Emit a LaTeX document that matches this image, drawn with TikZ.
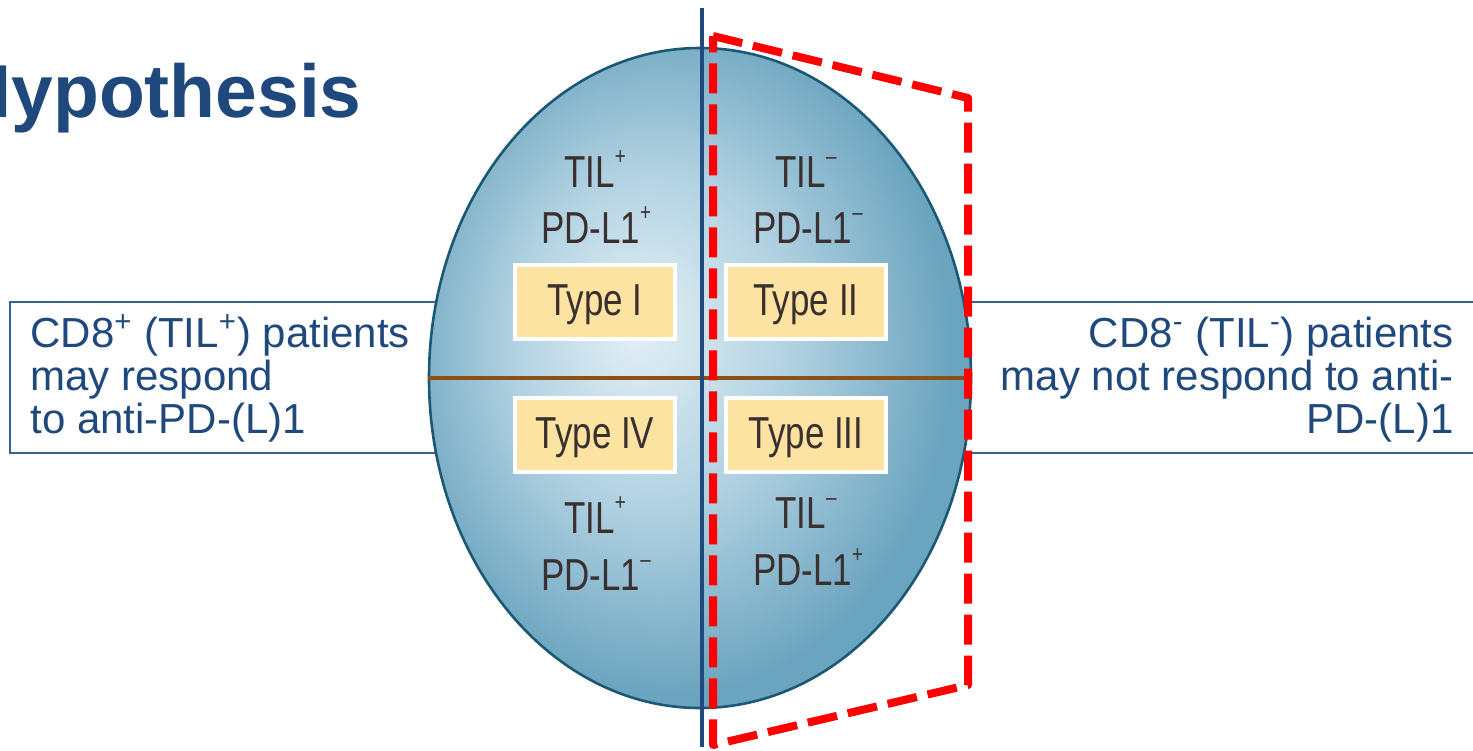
\documentclass[tikz,border=0pt]{standalone}
\usepackage{fontspec}
\setmainfont{Liberation Sans}
\newfontfamily\condfont[FakeStretch=0.78]{Liberation Sans}
\usetikzlibrary{shapes.geometric}
\definecolor{titleblue}{HTML}{1F497D}
\definecolor{boxline}{HTML}{3A628F}
\definecolor{cellin}{HTML}{E4F0F6}
\definecolor{cellmid}{HTML}{B0D1E1}
\definecolor{cellout}{HTML}{6BA4BF}
\definecolor{cellborder}{HTML}{1B5874}
\definecolor{divbrown}{HTML}{8A5016}
\definecolor{divblue}{HTML}{214A7C}
\definecolor{typeyellow}{HTML}{FCE3A1}
\definecolor{quadtext}{HTML}{3A3030}
\pgfdeclareradialshading{cellshade}{\pgfpoint{-6bp}{4bp}}{color(0bp)=(cellin); color(13bp)=(cellmid); color(26bp)=(cellout); color(50bp)=(cellout)}
\newcommand{\supp}[1]{\raisebox{0.5em}{\fontsize{12}{12}\selectfont #1}}
\tikzset{
  sidebox/.style={draw=boxline, line width=0.8pt, fill=white, inner sep=0pt},
  sidetext/.style={text=titleblue, font=\fontsize{21}{22}\selectfont, inner sep=0pt},
  typebox/.style={draw=white, line width=2pt, fill=typeyellow, minimum width=80pt, minimum height=37pt, inner sep=0pt},
  quad/.style={text=quadtext, font=\condfont\fontsize{22.4}{24}\selectfont, inner sep=0pt, anchor=base},
  redframe/.style={draw=red, line width=4pt, dash pattern=on 15pt off 5.5pt, line join=round},
}
\begin{document}
\begin{tikzpicture}[x=0.5pt, y=-0.5pt]
\useasboundingbox (0,0) rectangle (1473,750);
% title
\node[anchor=base east, inner sep=0pt, text=titleblue, font=\fontsize{37.5}{40}\selectfont\bfseries] (title) at (362,117) {Hypothesis};
% side boxes
\node[sidebox, minimum width=315pt, minimum height=75.5pt] (leftbox) at (325,377.5) {};
\node[sidebox, minimum width=345pt, minimum height=75.5pt] (rightbox) at (1145,377.5) {};
% cell
\node[ellipse, minimum width=271pt, minimum height=330pt, shading=cellshade, draw=cellborder, line width=1.3pt] (cell) at (700,378) {};
\draw[divbrown, line width=2pt] (cell.west) -- (cell.east);
% side texts
\node[sidetext, anchor=base west] (lt1) at (30,347) {CD8\textsuperscript{+} (TIL\textsuperscript{+}) patients};
\node[sidetext, anchor=base west] (lt2) at (30,390) {may respond};
\node[sidetext, anchor=base west] (lt3) at (30,433) {to anti-PD-(L)1};
\node[sidetext, anchor=base east] (rt1) at (1454,347) {CD8\textsuperscript{-} (TIL\textsuperscript{-}) patients};
\node[sidetext, anchor=base east] (rt2) at (1454,390) {may not respond to anti-};
\node[sidetext, anchor=base east] (rt3) at (1454,433) {PD-(L)1};
% type boxes
\node[typebox] (t1box) at (595,301.5) {};
\node[typebox] (t2box) at (806,301.5) {};
\node[typebox] (t4box) at (595,435) {};
\node[typebox] (t3box) at (806,435) {};
\node[quad] (t1) at (595,315) {Type I};
\node[quad] (t2) at (806,315) {Type II};
\node[quad] (t4) at (595,448) {Type IV};
\node[quad] (t3) at (806,448) {Type III};
% quadrant labels
\node[quad] (q1a) at (595,187) {TIL\supp{+}};
\node[quad] (q1b) at (596,243) {PD-L1\supp{+}};
\node[quad] (q2a) at (806,187) {TIL\supp{–}};
\node[quad] (q2b) at (808,243) {PD-L1\supp{–}};
\node[quad] (q4a) at (595,533) {TIL\supp{+}};
\node[quad] (q4b) at (596,590) {PD-L1\supp{–}};
\node[quad] (q3a) at (806,528) {TIL\supp{–}};
\node[quad] (q3b) at (808,585) {PD-L1\supp{+}};
% vertical divider
\coordinate (vtop) at (702,8);
\coordinate (vbot) at (702,747);
\draw[divblue, line width=2pt] (vtop) -- (vbot);
% red dashed frame
\coordinate (r1) at (713,36);
\coordinate (r2) at (968,98);
\coordinate (r3) at (968,685);
\coordinate (r4) at (713,745);
\draw[redframe] (r1) -- (r2) -- (r3) -- (r4) -- cycle;
\end{tikzpicture}
\end{document}
